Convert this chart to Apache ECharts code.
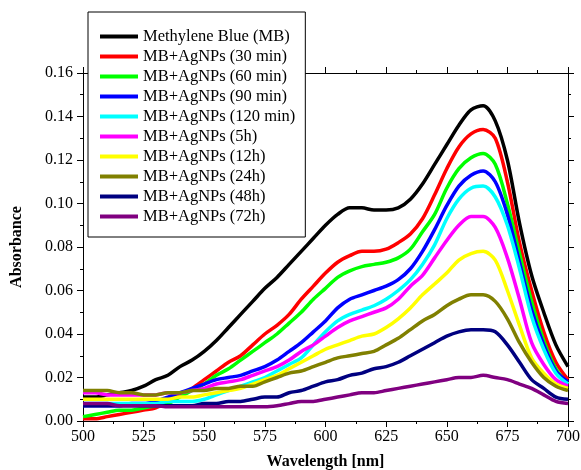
<!DOCTYPE html>
<html>
<head>
<meta charset="utf-8">
<script src="https://cdn.jsdelivr.net/npm/echarts@6/dist/echarts.min.js"></script>
<style>html,body{margin:0;padding:0;background:#fff}#c{width:581px;height:470px}</style>
</head>
<body>
<div id="c"></div>
<script>
const wavelengths = [500,505,510,515,520,525,530,535,540,545,550,555,560,565,570,575,580,585,590,595,600,605,610,615,620,625,630,635,640,645,650,655,660,665,670,675,680,685,690,695,700];
const seriesNames = ['Methylene Blue (MB)','MB+AgNPs (30 min)','MB+AgNPs (60 min)','MB+AgNPs (90 min)','MB+AgNPs (120 min)','MB+AgNPs (5h)','MB+AgNPs (12h)','MB+AgNPs (24h)','MB+AgNPs (48h)','MB+AgNPs (72h)'];
const seriesColors = ['#000000','#ff0000','#00ff00','#0000ff','#00ffff','#ff00ff','#ffff00','#808000','#000080','#800080'];
const mb     = [0.011,0.011,0.012,0.013,0.014,0.016,0.019,0.021,0.025,0.028,0.032,0.037,0.043,0.049,0.055,0.061,0.066,0.072,0.078,0.084,0.090,0.095,0.098,0.098,0.097,0.097,0.098,0.102,0.109,0.118,0.127,0.136,0.143,0.145,0.138,0.120,0.091,0.067,0.050,0.035,0.025];
const m30    = [0.001,0.001,0.002,0.003,0.004,0.005,0.006,0.009,0.012,0.015,0.019,0.023,0.027,0.030,0.035,0.040,0.044,0.049,0.056,0.062,0.068,0.073,0.076,0.078,0.078,0.079,0.082,0.086,0.093,0.104,0.116,0.126,0.132,0.134,0.130,0.110,0.082,0.060,0.041,0.027,0.019];
const m60    = [0.002,0.003,0.004,0.005,0.005,0.006,0.007,0.008,0.011,0.014,0.017,0.021,0.024,0.028,0.032,0.036,0.040,0.045,0.050,0.056,0.061,0.066,0.069,0.071,0.072,0.073,0.075,0.079,0.087,0.095,0.107,0.116,0.121,0.123,0.118,0.100,0.077,0.055,0.037,0.024,0.017];
const m90    = [0.007,0.007,0.007,0.007,0.008,0.008,0.009,0.011,0.013,0.015,0.017,0.019,0.020,0.021,0.023,0.025,0.028,0.032,0.036,0.041,0.046,0.052,0.056,0.058,0.060,0.062,0.065,0.070,0.078,0.088,0.099,0.108,0.113,0.115,0.110,0.095,0.073,0.051,0.035,0.023,0.018];
const m120   = [0.008,0.008,0.008,0.008,0.008,0.008,0.008,0.009,0.009,0.009,0.010,0.012,0.014,0.016,0.018,0.020,0.023,0.026,0.029,0.035,0.041,0.046,0.049,0.051,0.053,0.056,0.060,0.065,0.072,0.081,0.093,0.102,0.107,0.108,0.103,0.090,0.070,0.048,0.033,0.022,0.017];
const h5     = [0.013,0.013,0.012,0.012,0.012,0.012,0.012,0.013,0.013,0.014,0.015,0.017,0.018,0.019,0.021,0.023,0.025,0.028,0.032,0.035,0.039,0.043,0.046,0.048,0.050,0.052,0.056,0.062,0.067,0.075,0.083,0.090,0.094,0.094,0.089,0.075,0.056,0.036,0.026,0.019,0.016];
const h12    = [0.010,0.010,0.010,0.010,0.010,0.010,0.010,0.010,0.011,0.011,0.012,0.013,0.014,0.015,0.017,0.019,0.021,0.024,0.027,0.030,0.033,0.035,0.037,0.039,0.040,0.043,0.047,0.052,0.058,0.063,0.068,0.074,0.077,0.078,0.074,0.060,0.044,0.029,0.022,0.017,0.015];
const h24    = [0.014,0.014,0.014,0.013,0.013,0.012,0.012,0.013,0.013,0.014,0.014,0.015,0.015,0.016,0.016,0.018,0.020,0.022,0.023,0.025,0.027,0.029,0.030,0.031,0.032,0.035,0.038,0.042,0.046,0.049,0.053,0.056,0.058,0.058,0.055,0.047,0.036,0.027,0.020,0.016,0.014];
const h48    = [0.007,0.007,0.007,0.007,0.007,0.007,0.007,0.007,0.007,0.007,0.008,0.008,0.009,0.009,0.010,0.011,0.011,0.013,0.014,0.016,0.018,0.019,0.021,0.022,0.024,0.025,0.027,0.030,0.033,0.036,0.039,0.041,0.042,0.042,0.041,0.035,0.027,0.019,0.015,0.011,0.010];
const h72    = [0.008,0.008,0.008,0.007,0.007,0.007,0.007,0.0065,0.0065,0.0065,0.0065,0.0065,0.0065,0.0065,0.0065,0.0065,0.007,0.008,0.009,0.009,0.010,0.011,0.012,0.013,0.013,0.014,0.015,0.016,0.017,0.018,0.019,0.020,0.020,0.021,0.020,0.019,0.017,0.015,0.012,0.009,0.008];
const allValues = [mb,m30,m60,m90,m120,h5,h12,h24,h48,h72];
const xTicks = {min:500, max:700, interval:25};
const yTicks = {min:0, max:0.16, interval:0.02};

const FONT = 'Liberation Serif, Times New Roman, serif';
const chart = echarts.init(document.getElementById('c'), null, {renderer:'canvas'});

const axisCommon = {
  axisLine:{show:true, onZero:false, lineStyle:{color:'#000', width:1}},
  axisTick:{show:true, inside:false, length:6, lineStyle:{color:'#000', width:1}},
  minorTick:{show:true, splitNumber:2, length:3, lineStyle:{color:'#000', width:1}},
  splitLine:{show:false}
};

const option = {
  animation:false,
  backgroundColor:'#fff',
  grid:{left:83, right:13, top:73, bottom:49, containLabel:false, outerBoundsMode:'none'},
  legend:{
    orient:'vertical', left:88, top:12,
    padding:[16,10,12,12],
    backgroundColor:'#fff', borderColor:'#000', borderWidth:1,
    itemWidth:38, itemHeight:4, itemGap:3, icon:'rect',
    textStyle:{fontFamily:FONT, fontSize:16.5, color:'#000', lineHeight:16},
    data:seriesNames
  },
  xAxis:[
    Object.assign({}, axisCommon, {
      type:'value', position:'bottom', min:xTicks.min, max:xTicks.max, interval:xTicks.interval,
      name:'Wavelength [nm]', nameLocation:'middle', nameGap:33,
      nameTextStyle:{fontFamily:FONT, fontSize:16, fontWeight:'bold', color:'#000'},
      axisLabel:{fontFamily:FONT, fontSize:16, color:'#000', margin:8}
    }),
    Object.assign({}, axisCommon, {
      type:'value', position:'top', min:xTicks.min, max:xTicks.max, interval:xTicks.interval,
      axisLabel:{show:false}
    })
  ],
  yAxis:[
    Object.assign({}, axisCommon, {
      type:'value', position:'left', min:yTicks.min, max:yTicks.max, interval:yTicks.interval,
      name:'Absorbance', nameLocation:'middle', nameGap:58,
      nameTextStyle:{fontFamily:FONT, fontSize:16, fontWeight:'bold', color:'#000'},
      axisLabel:{fontFamily:FONT, fontSize:16, color:'#000', margin:10, formatter:v=>v.toFixed(2)}
    }),
    Object.assign({}, axisCommon, {
      type:'value', position:'right', min:yTicks.min, max:yTicks.max, interval:yTicks.interval,
      axisLabel:{show:false}
    })
  ],
  series: seriesNames.map((name,i)=>({
    name:name, type:'line', xAxisIndex:0, yAxisIndex:0,
    data: wavelengths.map((w,j)=>[w, allValues[i][j]]),
    showSymbol:false, symbol:'none', smooth:0.3,
    lineStyle:{color:seriesColors[i], width:3.5},
    itemStyle:{color:seriesColors[i]},
    clip:true
  }))
};
chart.setOption(option);
</script>
</body>
</html>
